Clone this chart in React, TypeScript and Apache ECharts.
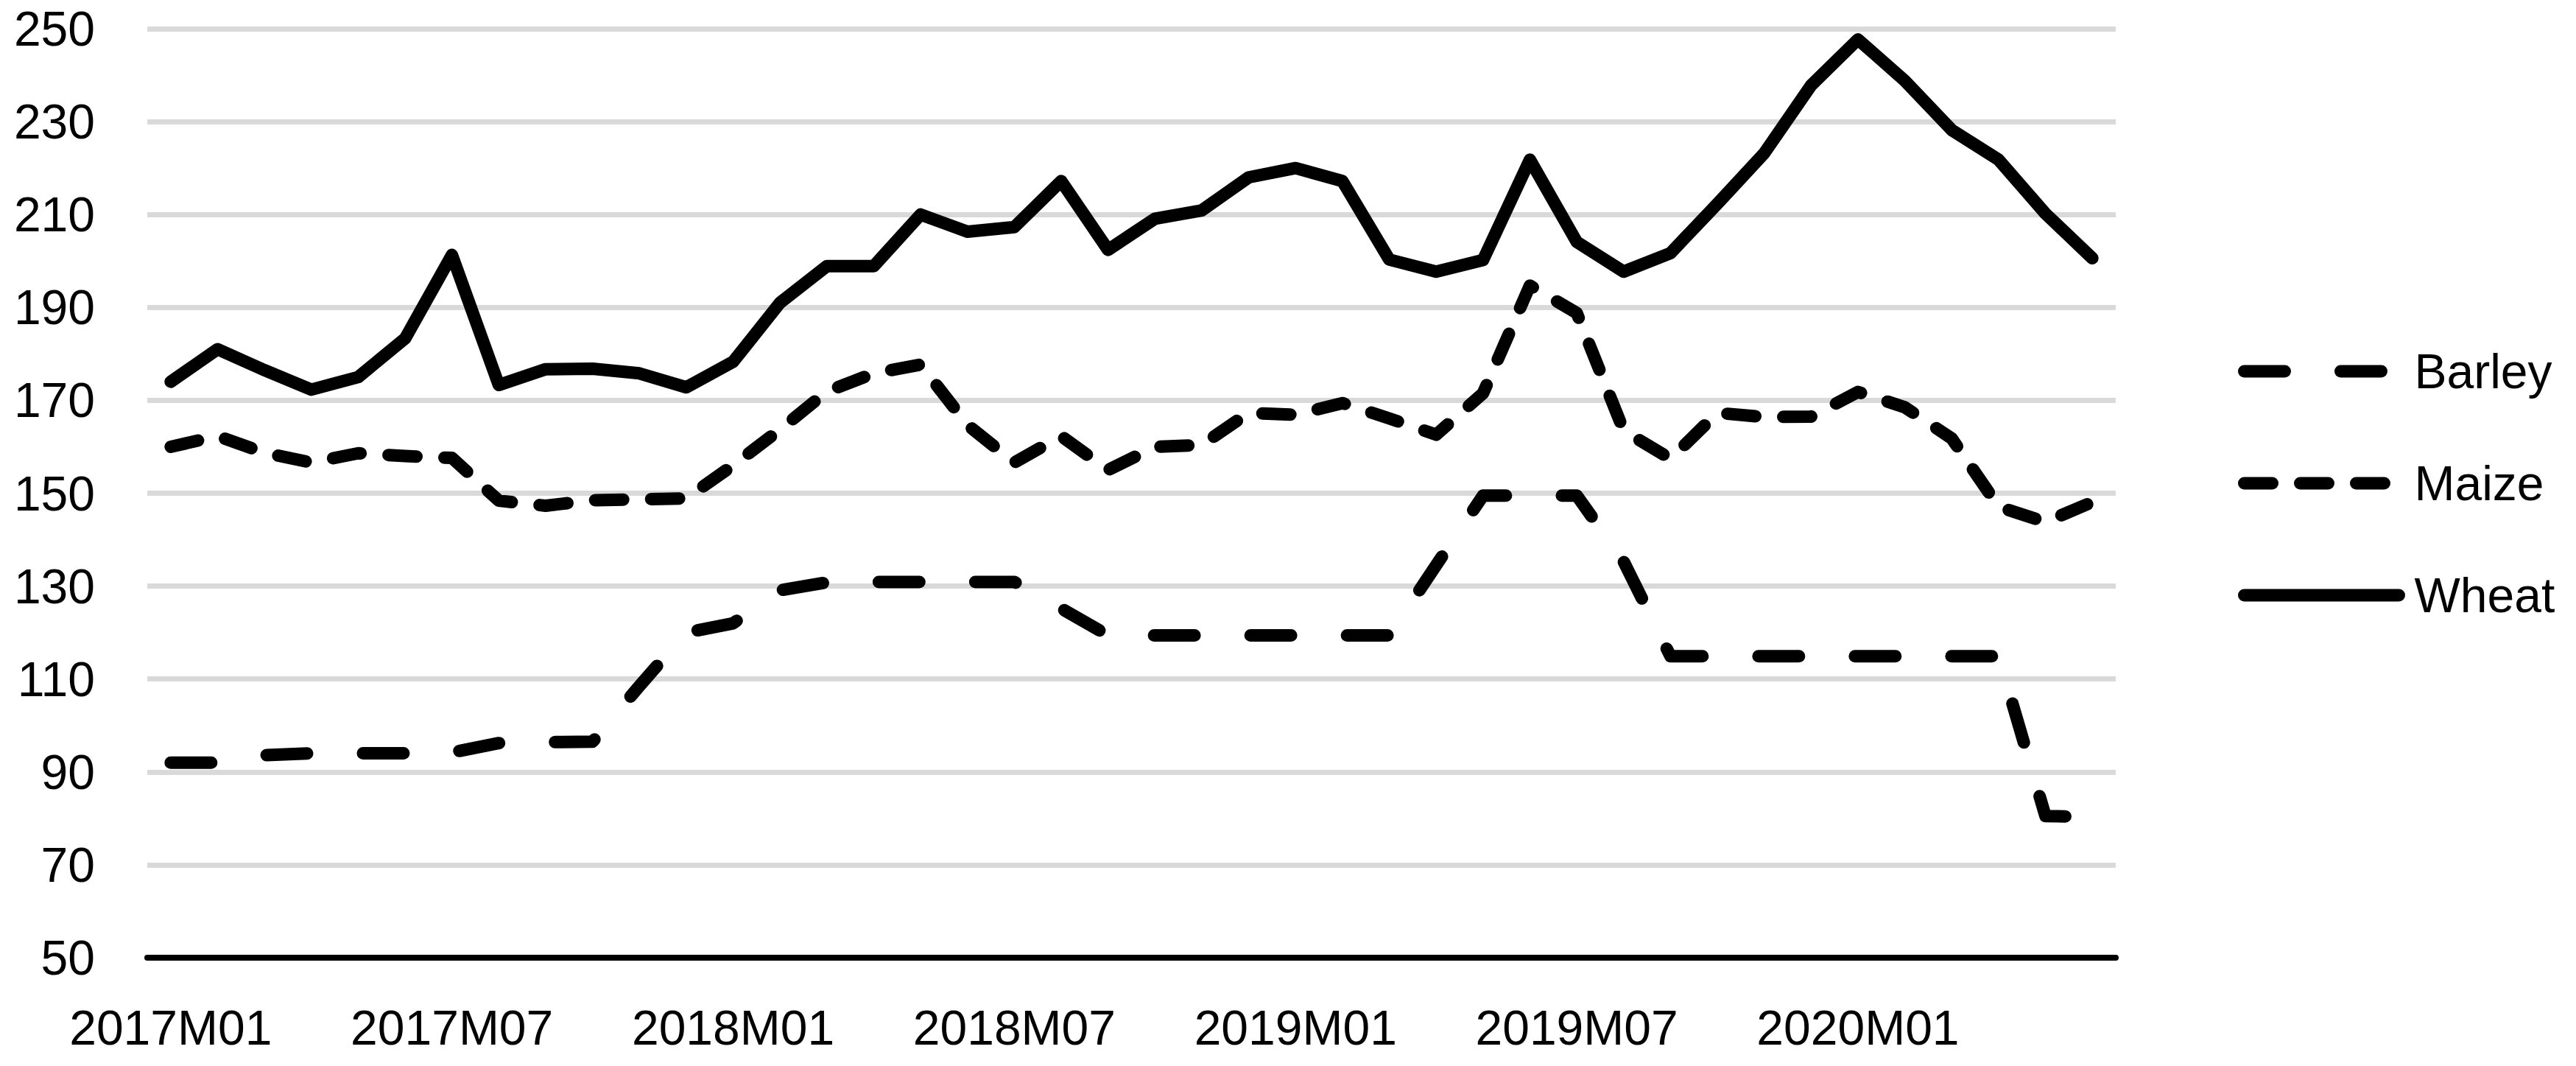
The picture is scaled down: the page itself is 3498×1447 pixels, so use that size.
import React, { useEffect, useRef } from "react";
import * as echarts from "echarts";

const months = [
  "2017M01", "2017M02", "2017M03", "2017M04", "2017M05", "2017M06",
  "2017M07", "2017M08", "2017M09", "2017M10", "2017M11", "2017M12",
  "2018M01", "2018M02", "2018M03", "2018M04", "2018M05", "2018M06",
  "2018M07", "2018M08", "2018M09", "2018M10", "2018M11", "2018M12",
  "2019M01", "2019M02", "2019M03", "2019M04", "2019M05", "2019M06",
  "2019M07", "2019M08", "2019M09", "2019M10", "2019M11", "2019M12",
  "2020M01", "2020M02", "2020M03", "2020M04", "2020M05", "2020M06",
];

const barley = [
  92, 92, 93.6, 94, 94, 94, 94.2, 96.2, 96.4, 96.5, 108.5, 120,
  122, 129.1, 130.8, 130.9, 130.9, 130.9, 130.9, 125.2, 119.4, 119.4, 119.4, 119.4,
  119.4, 119.4, 119.4, 134.5, 149.5, 149.5, 149.5, 135.3, 114.9, 114.9, 114.9, 114.9,
  114.9, 114.9, 114.9, 114.9, 80.5, 80.3,
];

const maize = [
  160, 162.3, 158.7, 156.6, 158.6, 158, 157.6, 148.4, 147.3, 148.5, 148.7, 148.9,
  156, 163.7, 171.9, 175.8, 177.7, 164.7, 156.6, 162.3, 155, 160, 160.4, 167.3,
  166.9, 169.4, 166.1, 162.6, 171.5, 194.7, 188.8, 163.5, 157.4, 167.3, 166.4, 166.5,
  171.8, 168.5, 161.8, 147.1, 143.8, 148.1,
];

const wheat = [
  174, 181, 176.5, 172.3, 175, 183.3, 201.3, 173.3, 176.7, 176.8, 175.8, 172.8,
  178.3, 191, 198.9, 198.9, 210, 206.3, 207.3, 217.2, 202.4, 209.1, 210.9, 218,
  220, 217.2, 200.3, 197.7, 200.2, 221.8, 204.1, 197.7, 201.7, 212.3, 223.2, 237.8,
  247.7, 238.8, 228.2, 221.8, 210.2, 200.6,
];

const seriesNames = ["Barley", "Maize", "Wheat"];
const yMin = 50;
const yMax = 250;
const yStep = 20;

const FONT = "'Liberation Sans', Arial, sans-serif";

export default function App() {
  const ref = useRef<HTMLDivElement>(null);

  useEffect(() => {
    if (!ref.current) return;
    const chart = echarts.init(ref.current, null, { renderer: "svg" });
    const baseLine = {
      color: "#000",
      width: 17,
      cap: "round",
      join: "round",
    };
    chart.setOption({
      animation: false,
      backgroundColor: "#ffffff",
      grid: { left: 200, right: 625, top: 39, bottom: 147, containLabel: false },
      legend: {
        orient: "vertical",
        left: 3039,
        top: 464,
        padding: 0,
        itemWidth: 210,
        itemHeight: 20,
        itemGap: 72,
        selectedMode: false,
        itemStyle: { opacity: 0 },
        lineStyle: { width: 17 },
        textStyle: {
          fontFamily: FONT,
          fontSize: 66,
          color: "#000",
          lineHeight: 80,
          padding: [0, 0, 0, 16],
        },
        data: seriesNames,
      },
      xAxis: {
        type: "category",
        data: months,
        boundaryGap: true,
        axisLine: { show: true, lineStyle: { color: "#000", width: 8 } },
        axisTick: { show: false },
        axisLabel: {
          interval: 5,
          margin: 62,
          fontFamily: FONT,
          fontSize: 66,
          color: "#000",
        },
        splitLine: { show: false },
      },
      yAxis: {
        type: "value",
        min: yMin,
        max: yMax,
        interval: yStep,
        axisLine: { show: false },
        axisTick: { show: false },
        axisLabel: {
          margin: 71,
          fontFamily: FONT,
          fontSize: 66,
          color: "#000",
        },
        splitLine: { show: true, lineStyle: { color: "#D9D9D9", width: 7 } },
      },
      series: [
        {
          name: seriesNames[0],
          type: "line",
          data: barley,
          symbol: "none",
          showSymbol: false,
          itemStyle: { color: "#000" },
          lineStyle: { ...baseLine, type: [55, 76] },
          emphasis: { disabled: true },
        },
        {
          name: seriesNames[1],
          type: "line",
          data: maize,
          symbol: "none",
          showSymbol: false,
          itemStyle: { color: "#000" },
          lineStyle: { ...baseLine, type: [38, 38] },
          emphasis: { disabled: true },
        },
        {
          name: seriesNames[2],
          type: "line",
          data: wheat,
          symbol: "none",
          showSymbol: false,
          itemStyle: { color: "#000" },
          lineStyle: { ...baseLine, type: "solid" },
          emphasis: { disabled: true },
        },
      ],
    });
    return () => chart.dispose();
  }, []);

  return (
    <div
      ref={ref}
      style={{
        position: "absolute",
        left: 0,
        top: 0,
        width: 3498,
        height: 1447,
        background: "#fff",
      }}
    />
  );
}
